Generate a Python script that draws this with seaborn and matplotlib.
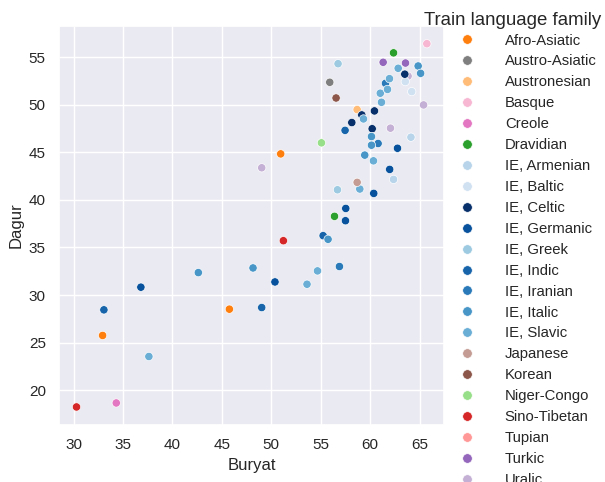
import pandas as pd
import seaborn as sns
import matplotlib.pyplot as plt

# ===================== data =====================
family_order = ["Afro-Asiatic", "Austro-Asiatic", "Austronesian", "Basque", "Creole",
                "Dravidian", "IE, Armenian", "IE, Baltic", "IE, Celtic", "IE, Germanic",
                "IE, Greek", "IE, Indic", "IE, Iranian", "IE, Italic", "IE, Slavic",
                "Japanese", "Korean", "Niger-Congo", "Sino-Tibetan", "Tupian", "Turkic", "Uralic"]

family_colors = ["#ff7f0e", "#7f7f7f", "#ffbb78", "#f7b6d2", "#e377c2",
                 "#2ca02c", "#b7d4ea", "#d0e1f2", "#08306b", "#08519c",
                 "#9ecae1", "#1764ab", "#2a7ab9", "#4896c8", "#6aaed6",
                 "#c49c94", "#8c564b", "#98df8a", "#d62728", "#ff9896", "#9467bd", "#c5b0d5"]

family = ["Uralic",
          "Afro-Asiatic", "Afro-Asiatic", "Afro-Asiatic",
          "Austro-Asiatic", "Austronesian", "Basque", "Creole",
          "Dravidian", "Dravidian",
          "IE, Armenian", "IE, Armenian",
          "IE, Baltic", "IE, Baltic",
          "IE, Celtic", "IE, Celtic", "IE, Celtic", "IE, Celtic", "IE, Celtic",
          "IE, Germanic", "IE, Germanic", "IE, Germanic", "IE, Germanic", "IE, Germanic",
          "IE, Germanic", "IE, Germanic",
          "IE, Greek", "IE, Greek",
          "IE, Indic", "IE, Indic", "IE, Indic", "IE, Indic",
          "IE, Iranian", "IE, Iranian", "IE, Iranian",
          "IE, Italic", "IE, Italic", "IE, Italic", "IE, Italic", "IE, Italic",
          "IE, Italic", "IE, Italic", "IE, Italic",
          "IE, Slavic", "IE, Slavic", "IE, Slavic", "IE, Slavic", "IE, Slavic",
          "IE, Slavic", "IE, Slavic", "IE, Slavic", "IE, Slavic", "IE, Slavic", "IE, Slavic",
          "Japanese", "Korean", "Niger-Congo",
          "Sino-Tibetan", "Sino-Tibetan",
          "Turkic", "Turkic",
          "Uralic", "Uralic", "Uralic"]

buryat = [63.83,
          50.95, 45.76, 32.94,
          55.91, 58.68, 65.73, 34.32,
          62.36, 56.39,
          62.36, 64.12,
          63.55, 64.2,
          58.14, 59.15, 60.43, 60.2, 63.5,
          36.81, 50.37, 57.53, 57.5, 60.36,
          61.97, 62.76,
          56.75, 56.69,
          33.07, 49.03, 55.24, 57.46,
          56.89, 60.8, 61.55,
          42.62, 48.15, 55.74, 59.45, 60.13,
          60.13, 64.85, 65.1,
          37.62, 53.61, 54.67, 58.95, 60.33,
          59.32, 61.14, 61.02, 61.75, 61.95, 62.83,
          58.68, 56.55, 55.07,
          30.3, 51.22,
          61.31, 63.57,
          65.4, 62.05, 49.03]

dagur = [53.0,
         44.83, 28.52, 25.76,
         52.35, 49.48, 56.4, 18.67,
         55.44, 38.27,
         42.15, 46.58,
         52.42, 51.37,
         48.12, 48.92, 49.34, 47.47, 53.2,
         30.83, 31.38, 39.1, 37.81, 40.68,
         43.2, 45.42,
         54.3, 41.06,
         28.45, 28.69, 36.24, 47.3,
         33.0, 45.92, 52.24,
         32.36, 32.85, 35.86, 44.7, 45.74,
         46.65, 54.06, 53.29,
         23.55, 31.14, 32.54, 41.14, 44.1,
         48.5, 50.25, 51.2, 51.6, 52.73, 53.82,
         41.84, 50.7, 45.99,
         18.25, 35.71,
         54.45, 54.37,
         49.97, 47.53, 43.37]

df = pd.DataFrame({"Buryat": buryat, "Dagur": dagur, "Train language family": family})
palette = dict(zip(family_order, family_colors))

# ===================== plot =====================
sns.set_theme(style="darkgrid")
plt.rcParams["font.family"] = ["Liberation Sans", "DejaVu Sans"]

fig = plt.figure(figsize=(6.05, 4.82), dpi=100)
ax = fig.add_axes([0.0975, 0.118, 0.637, 0.829])

sns.scatterplot(data=df, x="Buryat", y="Dagur", hue="Train language family",
                hue_order=family_order, palette=palette, ax=ax, s=36)

# legend entries outside the axes, title placed on its own above them
sns.move_legend(ax, "upper left", bbox_to_anchor=(0.730, 0.952),
                bbox_transform=fig.transFigure, frameon=False, title=None,
                fontsize=10.7, labelspacing=0.466, handlelength=2.0,
                handletextpad=1.55, borderpad=0.2, markerscale=1.15)
fig.text(0.848, 0.9585, "Train language family", ha="center", va="center",
         fontsize=13.4, color="#262626")

fig.savefig("out.png", dpi=100)
